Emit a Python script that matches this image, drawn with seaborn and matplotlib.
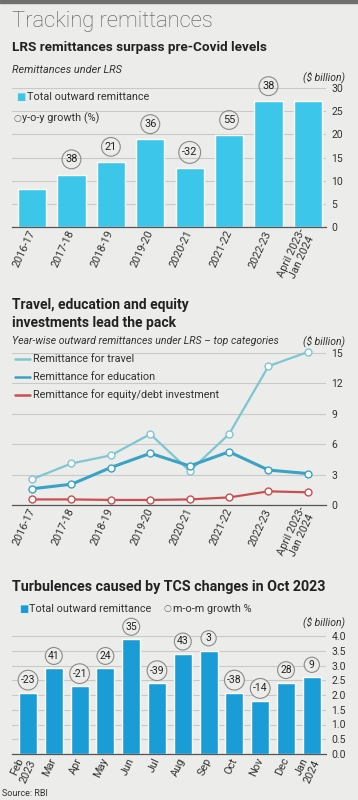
import numpy as np
import pandas as pd
import matplotlib
matplotlib.use("Agg")
import matplotlib.pyplot as plt
import seaborn as sns

# ---------------- data ----------------
years = ['2016-17', '2017-18', '2018-19', '2019-20', '2020-21', '2021-22',
         '2022-23', 'April 2023-\nJan 2024']
total_lrs = [8.2, 11.3, 14.0, 18.9, 12.8, 19.8, 27.1, 27.2]
yoy_growth = [None, 38, 21, 36, -32, 55, 38, None]

travel = [2.55, 4.1, 4.9, 7.0, 3.35, 7.0, 13.7, 15.1]
education = [1.6, 2.05, 3.7, 5.1, 3.85, 5.25, 3.45, 3.1]
equity = [0.55, 0.55, 0.5, 0.5, 0.55, 0.75, 1.35, 1.25]

months = ['Feb\n2023', 'Mar', 'Apr', 'May', 'Jun', 'Jul', 'Aug', 'Sep',
          'Oct', 'Nov', 'Dec', 'Jan\n2024']
monthly_total = [2.08, 2.9, 2.3, 2.9, 3.89, 2.4, 3.39, 3.5, 2.08, 1.8, 2.42, 2.6]
mom_growth = [-23, 41, -21, 24, 35, -39, 43, 3, -38, -14, 28, 9]

# ---------------- style ----------------
sns.set_style("white")
plt.rcParams['font.family'] = ['Roboto', 'DejaVu Sans']
BG = '#ececea'
CYAN = '#3cc6ea'
BLUE = '#1a9dd7'
C_TRAVEL = '#7fc6d3'
C_EDU = '#38a3c4'
C_EQ = '#c8504f'
GRID = '#c9c9c7'
TXT = '#222222'

W, H = 358, 800
fig = plt.figure(figsize=(W / 100, H / 100), dpi=100, facecolor=BG)


def ax_px(left, top, right, bottom):
    ax = fig.add_axes([left / W, 1 - bottom / H, (right - left) / W, (bottom - top) / H])
    ax.set_facecolor('none')
    return ax


def T(x, y, s, **kw):
    kw.setdefault('va', 'center')
    kw.setdefault('color', TXT)
    fig.text(x / W, 1 - y / H, s, **kw)


def style_axis(ax, ticks, fmt, labels, rot=65):
    ax.set_yticks(ticks)
    ax.set_yticklabels([fmt(t) for t in ticks], fontsize=7.5, color='#333')
    ax.yaxis.tick_right()
    ax.tick_params(axis='y', length=0, pad=4)
    ax.tick_params(axis='x', length=0, pad=3)
    for t in ticks:
        ax.axhline(t, color=GRID, lw=0.8, zorder=0)
    for s in ['top', 'left', 'right']:
        ax.spines[s].set_visible(False)
    ax.spines['bottom'].set_color('#555')
    ax.spines['bottom'].set_linewidth(0.9)
    ax.spines['bottom'].set_zorder(5)
    ax.set_xlabel('')
    ax.set_ylabel('')
    ax.set_xticks(range(len(labels)))
    ax.set_xticklabels(labels, rotation=rot, ha='right', va='center',
                       rotation_mode='anchor', fontsize=7.8, color='#333',
                       multialignment='center')


# top frame strip
fig.patches.append(plt.Rectangle((0, 1 - 3 / H), 1, 3 / H, transform=fig.transFigure,
                                 color='#707070', zorder=10))

# ---------------- headings ----------------
T(12, 27, 'Tracking remittances', fontsize=15.8, fontweight='light', color='#555',
  va='baseline')

# ---------------- chart 1 ----------------
T(12, 48, 'LRS remittances surpass pre-Covid levels', fontsize=9.7, fontweight='bold')
T(12, 70, 'Remittances under LRS', fontsize=7.8, style='italic', color='#333')
T(345, 77, '($ billion)', fontsize=7.5, style='italic', color='#333', ha='right')
T(16, 97, '■', fontsize=7, color=CYAN)
T(27, 97, 'Total outward remittance', fontsize=7.8, color='#333')
T(13, 118, '○', fontsize=6.5, color='#666')
T(22, 118, 'y-o-y growth (%)', fontsize=7.8, color='#333')

ax1 = ax_px(12, 88, 326, 227)
df1 = pd.DataFrame({'year': years, 'total': total_lrs})
sns.barplot(data=df1, x='year', y='total', color=CYAN, width=0.72, saturation=1,
            ax=ax1, zorder=2)
ax1.set_ylim(0, 30)
ax1.set_xlim(-0.51, 7.46)
style_axis(ax1, [0, 5, 10, 15, 20, 25, 30], lambda t: f'{t}', years)
for i, (v, g) in enumerate(zip(total_lrs, yoy_growth)):
    if g is None:
        continue
    ax1.annotate(f'{g}', xy=(i, v), xytext=(0, 11), textcoords='offset points',
                 ha='center', va='center', fontsize=7.8, color='#222',
                 bbox=dict(boxstyle='circle,pad=0.3', fc='none', ec='#8a8a8a', lw=0.8))

# ---------------- chart 2 ----------------
T(12, 305, 'Travel, education and equity', fontsize=10, fontweight='bold')
T(12, 323, 'investments lead the pack', fontsize=10, fontweight='bold')
T(12, 341, 'Year-wise outward remittances under LRS – top categories', fontsize=7.6,
  style='italic', color='#333')
T(345, 341, '($ billion)', fontsize=7.5, style='italic', color='#333', ha='right')
for y, c, lab in [(359, C_TRAVEL, 'Remittance for travel'),
                  (377, C_EDU, 'Remittance for education'),
                  (395, C_EQ, 'Remittance for equity/debt investment')]:
    fig.add_artist(plt.Line2D([15 / W, 30 / W], [1 - y / H, 1 - y / H], color=c, lw=1.8))
    T(33, y, lab, fontsize=7.8, color='#333')

ax2 = ax_px(12, 353, 326, 505)
xpos = np.arange(len(years))
for vals, c, lw in [(travel, C_TRAVEL, 1.6), (education, C_EDU, 2.2), (equity, C_EQ, 1.6)]:
    sns.lineplot(x=xpos, y=vals, ax=ax2, color=c, lw=lw, marker='o', markersize=5,
                 markerfacecolor='white', markeredgecolor=c, markeredgewidth=1,
                 clip_on=False, zorder=3)
ax2.set_ylim(0, 15)
ax2.set_xlim(-0.51, 7.46)
style_axis(ax2, [0, 3, 6, 9, 12, 15], lambda t: f'{t}', years)

# ---------------- chart 3 ----------------
T(12, 587, 'Turbulences caused by TCS changes in Oct 2023', fontsize=10.3, fontweight='bold')
T(19, 609, '■', fontsize=7, color=BLUE)
T(29, 609, 'Total outward remittance', fontsize=7.8, color='#333')
T(164, 609, '○', fontsize=6.5, color='#666')
T(173, 609, 'm-o-m growth %', fontsize=7.8, color='#333')
T(345, 622, '($ billion)', fontsize=7.5, style='italic', color='#333', ha='right')

ax3 = ax_px(12, 636, 326, 754)
df3 = pd.DataFrame({'month': months, 'total': monthly_total})
sns.barplot(data=df3, x='month', y='total', color=BLUE, width=0.7, saturation=1,
            ax=ax3, zorder=2)
ax3.set_ylim(0, 4.0)
ax3.set_xlim(-0.62, 11.55)
style_axis(ax3, [0, 0.5, 1.0, 1.5, 2.0, 2.5, 3.0, 3.5, 4.0], lambda t: f'{t:.1f}', months)
for i, (v, g) in enumerate(zip(monthly_total, mom_growth)):
    ax3.annotate(f'{g}', xy=(i, v), xytext=(0, 9), textcoords='offset points',
                 ha='center', va='center', fontsize=7.5, color='#222',
                 bbox=dict(boxstyle='circle,pad=0.25', fc=BG, ec='#8a8a8a', lw=0.8))

T(2, 793, 'Source: RBI', fontsize=6.5, color='#333')

fig.savefig('out.png', dpi=100, facecolor=BG)
